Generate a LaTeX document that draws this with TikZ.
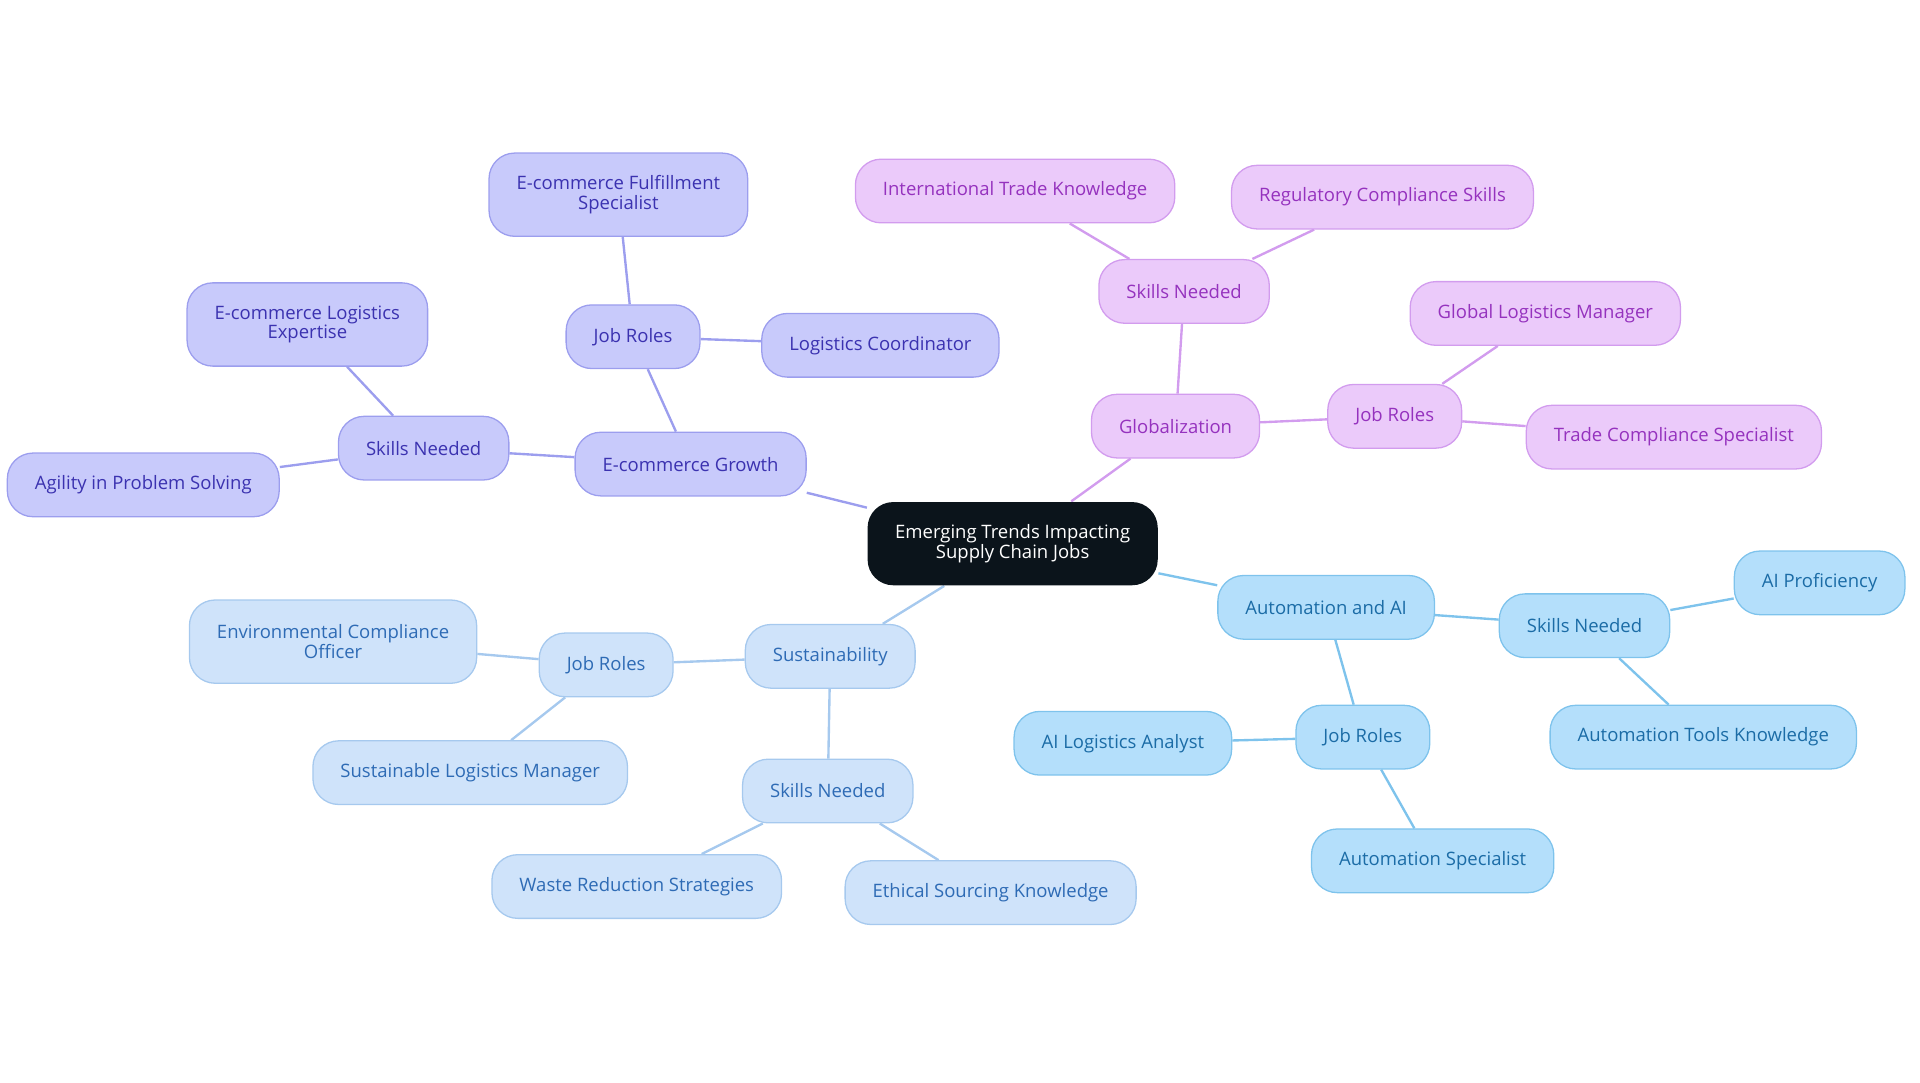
\documentclass[tikz,border=0pt]{standalone}
\usepackage{fontspec}
\setmainfont{Open Sans}
\usetikzlibrary{positioning,backgrounds}
\definecolor{ecFill}{HTML}{C8CAFB}\definecolor{ecLine}{HTML}{9C9EEE}\definecolor{ecText}{HTML}{3B32B0}
\definecolor{glFill}{HTML}{EBCAFA}\definecolor{glLine}{HTML}{D29CEE}\definecolor{glText}{HTML}{9532BE}
\definecolor{suFill}{HTML}{CFE3FA}\definecolor{suLine}{HTML}{A6C9EE}\definecolor{suText}{HTML}{2E6BB5}
\definecolor{auFill}{HTML}{B4DFFB}\definecolor{auLine}{HTML}{7EC3EC}\definecolor{auText}{HTML}{1B6CA6}
\definecolor{hub}{HTML}{0B141B}
\tikzset{
box/.style = {rounded corners=0.42cm, minimum height=1.04cm, inner xsep=0.45cm, align=center, font=\fontsize{8.6}{9}\selectfont, line width=0.6pt},
ecbox/.style = {box, draw=ecLine, fill=ecFill, text=ecText},
glbox/.style = {box, draw=glLine, fill=glFill, text=glText},
subox/.style = {box, draw=suLine, fill=suFill, text=suText},
aubox/.style = {box, draw=auLine, fill=auFill, text=auText},
ecedge/.style = {draw=ecLine, line width=1.1pt},
gledge/.style = {draw=glLine, line width=1.1pt},
suedge/.style = {draw=suLine, line width=1.1pt},
auedge/.style = {draw=auLine, line width=1.1pt}
}
\begin{document}
\begin{tikzpicture}[x=0.02cm, y=-0.02cm]
\useasboundingbox (0,0) rectangle (1568,884);
\node [box, fill=hub, text=white, minimum width=4.5cm, minimum height=1.36cm] (hubnode) at (827,444) {Emerging Trends Impacting\\Supply Chain Jobs};
% e-commerce
\node [ecbox, minimum width=3.7cm] (ecom) at (564,379) {E-commerce Growth};
\node [ecbox] (ecomJob) at (517,275) {Job Roles};
\node [ecbox, minimum width=4.08cm, minimum height=1.36cm] (ecomJobA) at (505,159) {E-commerce Fulfillment\\Specialist};
\node [ecbox, minimum width=3.8cm] (ecomJobB) at (719,282) {Logistics Coordinator};
\node [ecbox] (ecomSkill) at (346,366) {Skills Needed};
\node [ecbox, minimum width=3.92cm, minimum height=1.36cm] (ecomSkillA) at (251,265) {E-commerce Logistics\\Expertise};
\node [ecbox, minimum width=4.2cm] (ecomSkillB) at (117,396) {Agility in Problem Solving};
% globalization
\node [glbox] (glob) at (960,348) {Globalization};
\node [glbox] (globSkill) at (967,238) {Skills Needed};
\node [glbox, minimum width=4.96cm] (globSkillA) at (829,156) {International Trade Knowledge};
\node [glbox, minimum width=4.76cm] (globSkillB) at (1129,161) {Regulatory Compliance Skills};
\node [glbox] (globJob) at (1139,340) {Job Roles};
\node [glbox, minimum width=4.24cm] (globJobA) at (1262,256) {Global Logistics Manager};
\node [glbox, minimum width=4.68cm] (globJobB) at (1367,357) {Trade Compliance Specialist};
% sustainability
\node [subox] (sust) at (678,536) {Sustainability};
\node [subox] (sustJob) at (495,543) {Job Roles};
\node [subox, minimum width=4.48cm, minimum height=1.36cm] (sustJobA) at (272,524) {Environmental Compliance\\Officer};
\node [subox, minimum width=5cm] (sustJobB) at (384,631) {Sustainable Logistics Manager};
\node [subox] (sustSkill) at (676,646) {Skills Needed};
\node [subox, minimum width=4.68cm] (sustSkillA) at (520,724) {Waste Reduction Strategies};
\node [subox, minimum width=4.6cm] (sustSkillB) at (809,729) {Ethical Sourcing Knowledge};
% automation
\node [aubox, minimum width=3.4cm] (auto) at (1083,496) {Automation and AI};
\node [aubox] (autoSkill) at (1294,511) {Skills Needed};
\node [aubox, minimum width=2.76cm] (autoSkillA) at (1486,476) {AI Proficiency};
\node [aubox, minimum width=4.76cm] (autoSkillB) at (1391,602) {Automation Tools Knowledge};
\node [aubox] (autoJob) at (1113,602) {Job Roles};
\node [aubox, minimum width=3.48cm] (autoJobA) at (917,607) {AI Logistics Analyst};
\node [aubox, minimum width=3.88cm] (autoJobB) at (1170,703) {Automation Specialist};
\begin{scope}[on background layer]
\path [ecedge] (hubnode) -- (ecom) (ecom) -- (ecomJob) (ecomJob) -- (ecomJobA) (ecomJob) -- (ecomJobB)
  (ecom) -- (ecomSkill) (ecomSkill) -- (ecomSkillA) (ecomSkill) -- (ecomSkillB);
\path [gledge] (hubnode) -- (glob) (glob) -- (globSkill) (globSkill) -- (globSkillA) (globSkill) -- (globSkillB)
  (glob) -- (globJob) (globJob) -- (globJobA) (globJob) -- (globJobB);
\path [suedge] (hubnode) -- (sust) (sust) -- (sustJob) (sustJob) -- (sustJobA) (sustJob) -- (sustJobB)
  (sust) -- (sustSkill) (sustSkill) -- (sustSkillA) (sustSkill) -- (sustSkillB);
\path [auedge] (hubnode) -- (auto) (auto) -- (autoSkill) (autoSkill) -- (autoSkillA) (autoSkill) -- (autoSkillB)
  (auto) -- (autoJob) (autoJob) -- (autoJobA) (autoJob) -- (autoJobB);
\end{scope}
\end{tikzpicture}
\end{document}
